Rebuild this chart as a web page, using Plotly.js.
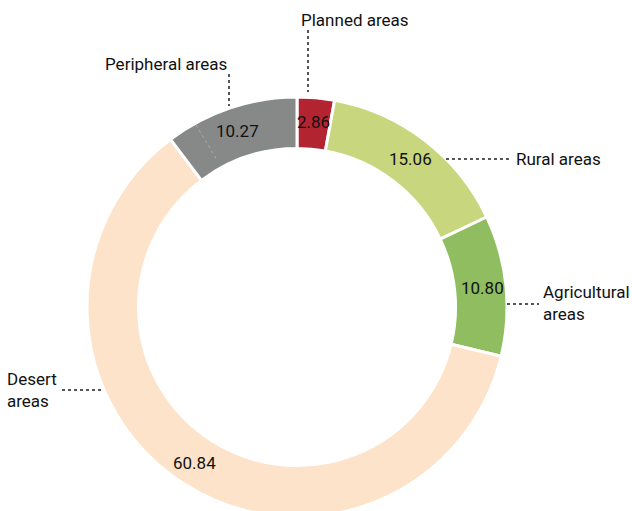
<!DOCTYPE html>
<html><head><meta charset="utf-8">
<script src="https://cdn.plot.ly/plotly-3.0.1.min.js"></script>
<style>html,body{margin:0;padding:0;overflow:hidden;background:#fff}</style>
</head><body><div id="chart" style="width:632px;height:517px"></div>
<script>
const categories = ["Planned areas","Rural areas","Agricultural areas","Desert areas","Peripheral areas"];
const values = [2.86, 15.06, 10.80, 60.84, 10.27];
const valueLabels = ["2.86","15.06","10.80","60.84","10.27"];
const colors = ["#b32431","#c8d67e","#8fbd5f","#fde3c9","#868988"];

const W = 632, H = 517;
const cx = 297, cy = 307, R = 210, hole = 0.755;
const px = x => x / W, py = y => 1 - y / H;

// value labels placed at slice mid-angle from the data
const total = values.reduce((a,b)=>a+b,0);
let cum = 0;
const labelR = 186;
const annotations = [];
values.forEach((v,i) => {
  const mid = (cum + v/2) / total * 2 * Math.PI;
  cum += v;
  annotations.push({
    x: px(cx + labelR*Math.sin(mid)), y: py(cy - labelR*Math.cos(mid)),
    xref:"paper", yref:"paper", text: valueLabels[i], showarrow:false,
    font:{family:"Roboto", size:17, color:"#111"}, xanchor:"center", yanchor:"middle"
  });
});

const outer = [
  {t:"Planned areas", x:299, y:20, xa:"left"},
  {t:"Peripheral areas", x:229, y:64, xa:"right"},
  {t:"Rural areas", x:514, y:159, xa:"left"},
  {t:"Agricultural<br>areas", x:541, y:303, xa:"left"},
  {t:"Desert<br>areas", x:5, y:390, xa:"left"}
];
outer.forEach(o => annotations.push({
  x:px(o.x), y:py(o.y), xref:"paper", yref:"paper", text:o.t, showarrow:false,
  xanchor:o.xa, yanchor:"middle", align:"left",
  font:{family:"Roboto", size:17, color:"#111"}
}));

const dot = {color:"#555", width:2, dash:"dot"};
const seg = (x0,y0,x1,y1,line) => ({type:"line", xref:"paper", yref:"paper",
  x0:px(x0), y0:py(y0), x1:px(x1), y1:py(y1), line});
const shapes = [
  seg(308,30,308,92,dot),
  seg(229,74,229,106,dot),
  seg(446,159,510,159,dot),
  seg(507,304,539,304,dot),
  seg(62,390,101,390,dot),
  seg(196,125,217,160,{color:"#aaaaaa", width:1, dash:"dot"})
];

const trace = {
  type:"pie", labels:categories, values:values, sort:false, direction:"clockwise",
  rotation:0, hole:hole, textinfo:"none", hoverinfo:"label+value",
  marker:{colors:colors, line:{color:"#ffffff", width:3}},
  domain:{x:[(cx-R)/W,(cx+R)/W], y:[0,(2*R)/H]}, showlegend:false
};

Plotly.newPlot("chart",[trace],{
  width:W, height:H, margin:{l:0,r:0,t:0,b:0},
  paper_bgcolor:"#fff", showlegend:false,
  annotations:annotations, shapes:shapes
},{displayModeBar:false, staticPlot:true});
</script></body></html>
